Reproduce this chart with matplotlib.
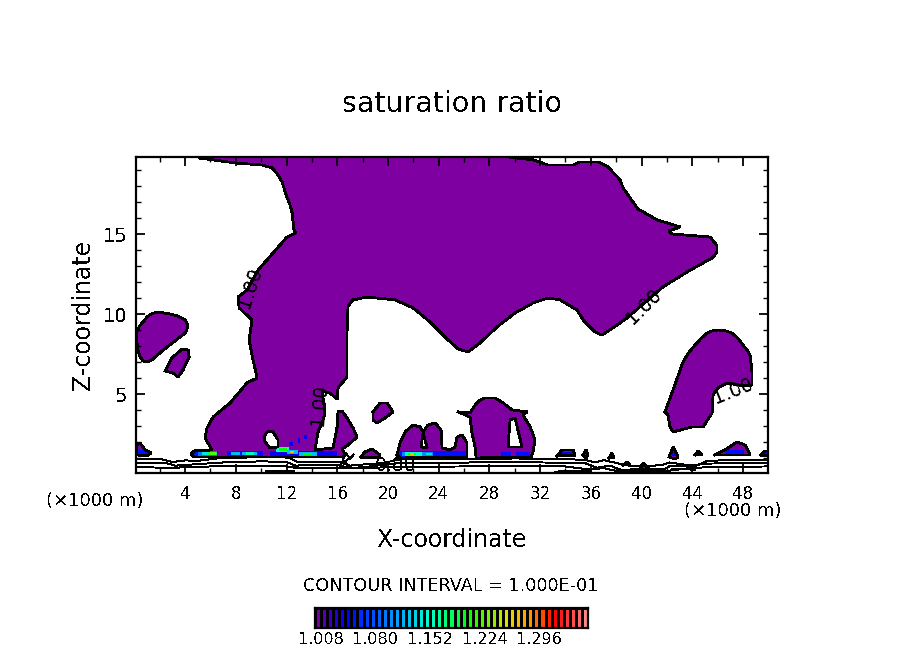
import numpy as np
import matplotlib
matplotlib.use("Agg")
import matplotlib.pyplot as plt
from matplotlib.colors import LinearSegmentedColormap, Normalize

# ---------- data (x in km, z in km) ----------

main_x = [5.10,7.94,10.07,10.86,11.33,11.65,11.97,12.28,12.44,12.52,12.59,12.75,12.04,9.76,8.89,8.18,8.26,9.20,9.28,9.05,9.36,9.68,8.89,7.55,6.21,5.73,5.58,6.13,4.71,4.47,4.71,16.46,16.62,16.38,16.85,17.56,17.25,16.77,16.38,16.06,15.99,15.67,14.25,14.49,14.88,15.04,14.80,15.43,15.99,16.06,16.77,16.77,16.85,17.25,18.35,20.56,21.98,23.32,24.66,25.53,26.32,27.26,28.60,30.02,31.44,32.62,33.57,34.91,35.39,36.33,36.88,37.75,38.85,41.69,43.59,45.60,45.95,45.95,45.40,42.40,42.17,43.04,41.22,39.72,39.49,38.54,38.30,37.35,36.57,35.15,34.60,32.62,32.15,31.44,28.84,5.10]
main_z = [19.78,19.47,19.34,19.16,18.72,18.28,17.47,16.84,16.34,15.78,15.28,15.09,14.84,12.78,11.53,11.09,10.41,9.72,9.66,8.41,7.16,6.03,5.72,4.47,3.59,2.91,2.28,1.53,1.47,1.28,1.09,1.09,1.28,1.59,1.84,2.34,2.91,3.53,3.97,3.91,2.97,1.66,1.53,2.66,3.41,3.84,5.22,5.09,4.72,5.41,6.09,8.84,10.53,10.91,11.09,10.91,10.41,9.53,8.47,7.84,7.66,8.22,9.22,10.09,10.72,11.03,10.91,10.28,9.66,8.91,8.72,9.16,9.78,11.72,12.66,13.55,13.90,14.30,14.84,15.03,15.22,15.47,15.91,16.59,16.84,17.91,18.41,19.22,19.53,19.53,19.34,19.34,19.47,19.66,19.90,19.90]

left_x = [0.21,0.40,0.69,1.05,1.47,2.10,2.82,3.50,4.00,4.24,4.15,4.00,3.30,2.58,1.95,1.40,1.05,0.69,0.42,0.29,0.21]
left_z = [8.91,9.28,9.53,9.88,10.09,10.12,10.03,9.88,9.66,9.34,9.08,8.84,8.40,7.97,7.55,7.16,7.05,7.09,7.40,7.78,8.22]
small_x = [2.43,2.97,3.76,4.24,4.32,3.84,3.45,3.05]
small_z = [6.47,7.28,7.84,7.78,7.34,6.53,6.09,6.34]
right_x = [41.85,42.48,42.85,43.27,43.70,44.22,44.70,45.16,45.60,46.03,46.60,47.13,47.60,48.00,48.30,48.55,48.70,48.71,48.16,46.74,46.03,45.64,45.56,44.85,43.98,42.48,42.24,42.09]
right_z = [3.91,5.28,6.10,7.03,7.60,8.09,8.50,8.84,8.98,9.03,8.98,8.84,8.50,8.09,7.80,7.47,6.50,5.59,5.53,5.72,5.41,4.97,3.84,2.97,2.97,2.66,2.97,3.72]
blob20_x = [18.82,19.38,19.93,20.40,19.77,19.14,18.82]
blob20_z = [3.91,4.47,4.47,3.91,3.53,3.22,3.41]
hump22_x = [20.72,20.95,21.35,21.98,22.53,22.77,23.16,23.72,24.19,24.27,24.90,25.29,25.45,25.85,26.24,26.24,20.95]
hump22_z = [1.22,1.97,2.66,3.09,2.97,2.66,3.09,3.22,2.78,1.66,1.53,1.72,2.34,2.47,1.97,1.09,1.03]
hump28_x = [25.53,26.47,26.87,27.20,27.66,28.45,29.08,29.79,30.97,30.65,31.21,31.60,31.44,31.29,26.95,26.87,26.63,26.47]
hump28_z = [3.91,3.84,4.34,4.62,4.78,4.78,4.47,4.03,3.91,3.72,2.97,2.16,1.41,1.09,1.03,1.72,2.59,3.59]
edge_x = [0.21,0.21,0.45,0.85,1.32,1.00]
edge_z = [1.22,1.84,1.97,1.53,1.34,1.16]
bits_x = [[33.33,33.72,34.60,34.76],[35.39,35.62,35.78,35.62],[37.43,37.67,37.83],[38.54,38.85,39.09],
          [39.72,40.12,40.67],[42.17,42.48,42.88,42.64],[44.22,44.45,44.77],[45.78,46.58,47.53,48.16,48.55],
          [49.42,49.73,49.97,49.97],[17.87,18.19,18.74,19.38,19.22]]
bits_z = [[1.16,1.53,1.53,1.16],[1.22,1.53,1.22,1.03],[1.03,1.34,1.03],[0.59,0.78,0.59],
          [0.16,0.72,0.28],[1.09,1.72,1.09,0.97],[1.22,1.47,1.22],[1.22,1.53,2.03,1.84,1.22],
          [1.22,1.47,1.47,1.16],[1.09,1.41,1.59,1.22,1.03]]

# white holes
hole12_x = [10.23,10.47,10.94,11.33,11.33,10.70,10.31]
hole12_z = [2.34,2.66,2.66,2.16,1.72,1.66,2.03]
hole23_x = [22.61,22.77,23.09]
hole23_z = [1.72,2.59,1.66]
hole30_x = [29.47,29.63,30.02,30.57]
hole30_z = [1.72,3.41,3.53,1.72]

# patches of higher ratio near the cloud base, drawn from weak to strong
spot_x0 = [0.25,4.63,5.00,5.34,5.70,6.00,6.15,7.31,7.60,8.50,8.80,10.70,11.2,11.4,12.0,12.3,13.0,13.3,12.2,12.9,13.4,20.80,21.10,21.35,21.60,21.75,23.0,28.9,30.1,33.6,42.4,46.6,47.8,49.6]
spot_x1 = [1.20,6.60,6.55,6.50,6.50,6.45,6.40,10.15,8.30,9.70,9.40,15.99,12.2,12.0,12.9,12.6,14.4,14.0,12.5,13.1,13.6,26.24,23.56,22.70,22.20,22.05,23.5,29.7,31.2,34.6,42.8,48.1,48.1,49.97]
spot_zc = [1.35,1.31,1.31,1.31,1.31,1.31,1.31,1.31,1.31,1.31,1.31,1.28,1.55,1.55,1.40,1.41,1.28,1.28,1.90,2.10,2.35,1.28,1.28,1.28,1.28,1.28,1.28,1.25,1.25,1.30,1.28,1.35,1.35,1.30]
spot_h = [0.35,0.36,0.28,0.24,0.20,0.16,0.10,0.34,0.20,0.22,0.16,0.36,0.28,0.20,0.28,0.16,0.26,0.16,0.25,0.30,0.25,0.34,0.26,0.22,0.18,0.10,0.16,0.30,0.30,0.25,0.30,0.30,0.30,0.25]
spot_val = [1.05,1.05,1.09,1.14,1.18,1.22,1.27,1.05,1.12,1.12,1.16,1.04,1.15,1.20,1.12,1.27,1.12,1.20,1.04,1.04,1.04,1.05,1.10,1.15,1.20,1.27,1.14,1.05,1.05,1.04,1.04,1.05,1.05,1.05]

# low level contours
line_a_x = [0.13,2.0,3.0,4.0,5.0,6.5,8.5,10.5,12.2,12.8,14.0,15.5,16.3,17.0,18.0,19.5,21.0,24.0,27.0,30.0,33.0,35.5,36.4,37.0,38.0,39.0,40.5,41.7,42.2,43.3,44.3,45.2,47.0,49.97]
line_a_z = [0.97,0.97,0.78,0.88,0.85,1.00,1.05,1.10,1.05,0.80,0.80,0.80,0.75,0.55,0.62,0.70,0.95,0.97,0.95,1.00,0.97,0.92,0.75,0.90,0.72,0.55,0.50,0.62,0.75,0.62,0.55,0.85,0.90,0.92]
line_b_x = [0.13,2.5,3.2,4.5,7.0,10.0,12.0,12.7,14.5,16.0,17.0,18.0,21.0,25.0,28.0,32.0,35.5,36.5,37.5,38.5,39.2,41.8,42.3,44.0,45.0,49.97]
line_b_z = [0.72,0.72,0.55,0.62,0.75,0.82,0.78,0.55,0.62,0.60,0.40,0.45,0.72,0.72,0.78,0.75,0.72,0.42,0.55,0.25,0.32,0.35,0.55,0.55,0.68,0.72]
line_c_x = [0.13,3.0,6.0,9.0,12.0,13.0,15.0,18.5,22.0,26.0,30.0,34.0,36.0,37.0,38.0,42.0,44.0,47.0,49.97]
line_c_z = [0.45,0.42,0.50,0.52,0.50,0.38,0.42,0.42,0.48,0.50,0.52,0.50,0.30,0.40,0.22,0.22,0.42,0.48,0.50]
line_d_x = [10.4,12.0,12.6]
line_d_z = [0.20,0.22,0.20]
line_e_x = [33.2,35.0,36.0]
line_e_z = [0.18,0.22,0.20]
line_f_x = [42.4,43.5,44.2,44.2]
line_f_z = [0.36,0.36,0.25,0.45]
curl_x = [16.2,16.7,17.0,17.3,16.6,17.0]
curl_z = [0.45,1.35,0.95,1.25,0.80,0.45]

label_x = [9.12,14.57,40.2,47.2]
label_z = [11.66,4.34,10.53,5.22]
label_rot = [72,85,45,22]

x_ticks = [4,8,12,16,20,24,28,32,36,40,44,48]
x_minor = [2,6,10,14,18,22,26,30,34,38,42,46]
z_ticks = [5,10,15]
z_minor = [1,2,3,4,6,7,8,9,11,12,13,14,16,17,18,19]

bar_levels = [1.0+0.008*k for k in range(46)]
bar_labels = ["1.008","1.080","1.152","1.224","1.296"]
bar_label_pos = [1.008,1.080,1.152,1.224,1.296]

# ---------- figure ----------

plt.rcParams['text.antialiased'] = False
W, H = 904, 654
fig = plt.figure(figsize=(W/100, H/100), dpi=100)
ax = fig.add_axes([136/W, (H-472.7)/H, 632/W, 315.7/H])

purple = "#7f00a0"
lw = 1.3
cmap = LinearSegmentedColormap.from_list("grads", [
    (0.00,"#8000a0"),(0.06,"#3000c0"),(0.12,"#0000ff"),(0.30,"#00a0ff"),(0.42,"#00ffd0"),
    (0.56,"#00ff00"),(0.70,"#e0e000"),(0.78,"#ffa000"),(0.88,"#ff0000"),(1.00,"#ff9090")])
norm = Normalize(1.0, 1.36)

shapes = [(main_x,main_z),(left_x,left_z),(small_x,small_z),(right_x,right_z),(blob20_x,blob20_z),
          (hump22_x,hump22_z),(hump28_x,hump28_z),(edge_x,edge_z)]
shapes += list(zip(bits_x,bits_z))
holes = [(hole12_x,hole12_z),(hole23_x,hole23_z),(hole30_x,hole30_z)]

for xs,zs in shapes:
    ax.fill(xs,zs,facecolor=purple,edgecolor="none",antialiased=False,zorder=1)
for xs,zs in holes:
    ax.fill(xs,zs,facecolor="white",edgecolor="none",antialiased=False,zorder=1.5)

x0 = np.array(spot_x0)
x1 = np.array(spot_x1)
ax.barh(spot_zc,x1-x0,left=x0,height=spot_h,color=cmap(norm(spot_val)),antialiased=False,zorder=2)

for xs,zs in shapes+holes:
    ax.plot(list(xs)+[xs[0]],list(zs)+[zs[0]],color="k",lw=lw,antialiased=False,zorder=3)

for xs,zs in [(line_a_x,line_a_z),(line_b_x,line_b_z),(line_c_x,line_c_z),(line_d_x,line_d_z),
              (line_e_x,line_e_z),(line_f_x,line_f_z),(curl_x,curl_z)]:
    ax.plot(xs,zs,color="k",lw=0.7,antialiased=False,zorder=3)

for x,z,r in zip(label_x,label_z,label_rot):
    ax.text(x,z,"1.00",rotation=r,rotation_mode="anchor",ha="center",va="center",fontsize=13.5,zorder=4)
ax.text(20.6,0.55,"0.80",ha="center",va="center",fontsize=13.5,zorder=4)

ax.set_xlim(0.13,49.97)
ax.set_ylim(0.11,19.84)
ax.set_xticks(x_ticks)
ax.set_xticks(x_minor,minor=True)
ax.set_yticks(z_ticks)
ax.set_yticks(z_minor,minor=True)
ax.tick_params(which="major",direction="in",length=6.5,width=1.3,top=True,right=True)
ax.tick_params(which="minor",direction="in",length=3.5,width=1.0,top=True,right=True)
ax.tick_params(axis="x",labelsize=12,pad=9)
ax.tick_params(axis="y",labelsize=14,pad=6)
for s in ax.spines.values():
    s.set_linewidth(1.6)

fig.text(452/W,1-104/H,"saturation ratio",ha="center",va="center",fontsize=20.5)
fig.text(452/W,1-540/H,"X-coordinate",ha="center",va="center",fontsize=17)
fig.text(83/W,1-315/H,"Z-coordinate",ha="center",va="center",rotation=90,fontsize=17)
fig.text(95/W,1-501/H,"(×1000 m)",ha="center",va="center",fontsize=13)
fig.text(733/W,1-511/H,"(×1000 m)",ha="center",va="center",fontsize=13)
fig.text(451/W,1-586/H,"CONTOUR INTERVAL = 1.000E-01",ha="center",va="center",fontsize=12.7)

# colour bar, one stripe per level with a black line between them
cax = fig.add_axes([315/W,(H-628)/H,273/W,20/H])
cax.pcolormesh(bar_levels,[0,1],[[v+0.004 for v in bar_levels[:-1]]],cmap=cmap,norm=norm,
               edgecolors="k",linewidth=1.0,antialiased=False)
cax.set_xlim(bar_levels[0],bar_levels[-1])
cax.set_yticks([])
cax.set_xticks(bar_label_pos)
cax.set_xticklabels(bar_labels,fontsize=11.5)
cax.tick_params(axis="x",length=0,pad=3)
for s in cax.spines.values():
    s.set_linewidth(1.6)

fig.savefig("out.png",dpi=100)
